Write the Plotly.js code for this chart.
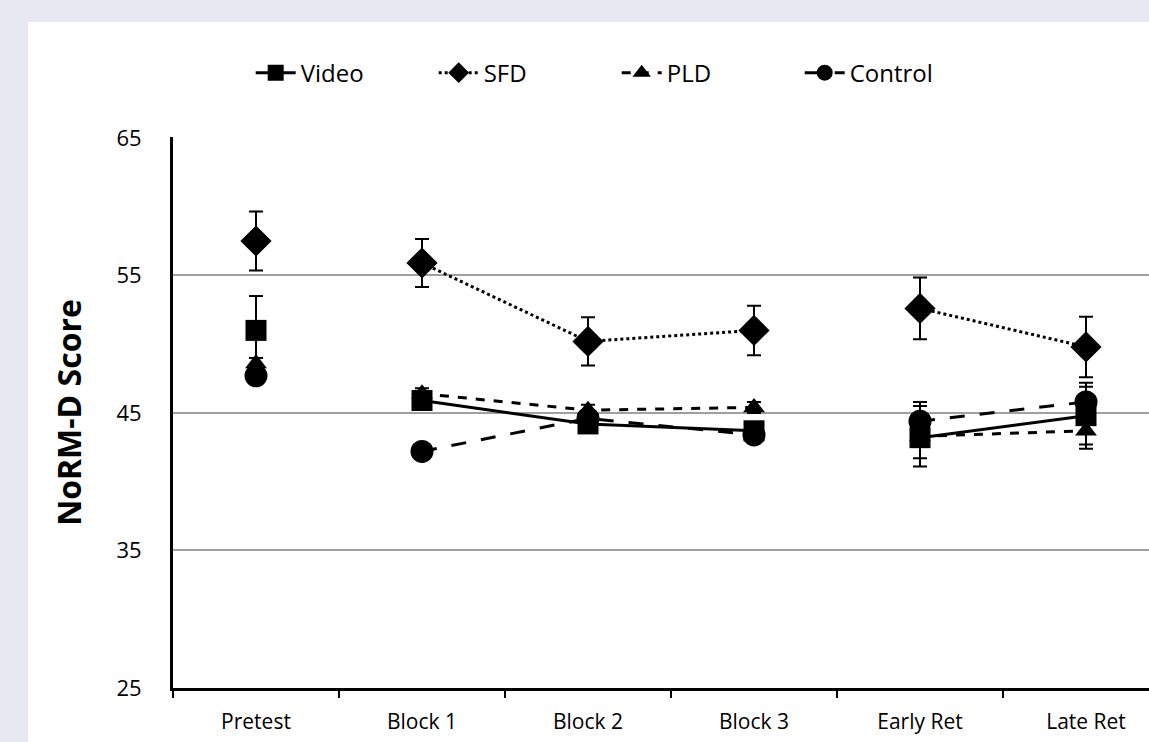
<!DOCTYPE html>
<html>
<head>
<meta charset="utf-8">
<script src="https://cdn.plot.ly/plotly-3.0.1.min.js"></script>
<style>
  html, body { margin: 0; padding: 0; background: #e6e9f1; overflow: hidden; width: 1149px; height: 742px; }
  #chart { position: absolute; left: 28px; top: 22px; width: 1200px; height: 760px; }
</style>
</head>
<body>
<div id="chart"></div>
<script>
const categories = ['Pretest', 'Block 1', 'Block 2', 'Block 3', 'Early Ret', 'Late Ret'];

const videoMean   = [51.0, 45.9, 44.2, 43.7, 43.2, 44.8];
const videoErr    = [2.5, 0.4, 0.4, 0.4, 1.5, 2.1];
const sfdMean     = [57.5, 55.9, 50.2, 51.0, 52.6, 49.8];
const sfdErr      = [2.15, 1.75, 1.75, 1.8, 2.25, 2.2];
const pldMean     = [48.6, 46.4, 45.2, 45.4, 43.3, 43.7];
const pldErr      = [0.4, 0.4, 0.4, 0.4, 2.2, 1.3];
const controlMean = [47.7, 42.2, 44.6, 43.4, 44.4, 45.8];
const controlErr  = [0.5, 0.5, 0.5, 0.5, 1.4, 1.4];

// segments: Pretest alone, Block 1-3 connected, Early-Late connected
const segments = [[0], [1, 2, 3], [4, 5]];

function withGaps(arr) {
  const out = [];
  segments.forEach((seg, si) => {
    if (si > 0) out.push(null);
    seg.forEach(i => out.push(arr[i]));
  });
  return out;
}

const series = [
  { name: 'Video',   mean: videoMean,   err: videoErr,   symbol: 'square',      size: 21, dash: 'solid' },
  { name: 'SFD',     mean: sfdMean,     err: sfdErr,     symbol: 'diamond',     size: 24, dash: 'dot' },
  { name: 'PLD',     mean: pldMean,     err: pldErr,     symbol: 'triangle-up', size: 19, dash: 'dash' },
  { name: 'Control', mean: controlMean, err: controlErr, symbol: 'circle',      size: 23, dash: 'longdash' }
];

const traces = series.map(s => ({
  type: 'scatter',
  mode: 'lines+markers',
  name: s.name,
  x: withGaps(categories),
  y: withGaps(s.mean),
  connectgaps: false,
  line: { color: '#000000', width: 3, dash: s.dash },
  marker: { symbol: s.symbol, size: s.size, color: '#000000' },
  error_y: { type: 'data', array: withGaps(s.err), visible: true, color: '#000000', thickness: 2, width: 7 },
  cliponaxis: false
}));

const layout = {
  width: 1200,
  height: 760,
  paper_bgcolor: '#ffffff',
  plot_bgcolor: '#ffffff',
  margin: { l: 145, r: 59, t: 115, b: 94 },
  font: { family: 'Open Sans, sans-serif', size: 21, color: '#000000' },
  showlegend: true,
  legend: {
    orientation: 'h',
    x: 0.078, xanchor: 'left',
    y: 1.116, yanchor: 'middle',
    font: { size: 24, color: '#000000' },
    itemwidth: 40,
    entrywidth: 128,
    bgcolor: 'rgba(0,0,0,0)'
  },
  xaxis: {
    type: 'category',
    categoryorder: 'array',
    categoryarray: categories,
    range: [-0.5, 5.5],
    showgrid: false,
    zeroline: false,
    showline: true,
    linecolor: '#000000',
    linewidth: 3,
    ticks: 'outside',
    tickson: 'boundaries',
    ticklen: 7,
    tickwidth: 2,
    tickcolor: '#000000',
    ticklabelstandoff: 13,
    tickfont: { size: 21 }
  },
  yaxis: {
    range: [25, 65.06],
    dtick: 10,
    tick0: 25,
    showgrid: true,
    gridcolor: '#a0a0a0',
    gridwidth: 2,
    zeroline: false,
    showline: true,
    linecolor: '#000000',
    linewidth: 3,
    ticks: '',
    ticklabelstandoff: 24,
    tickfont: { size: 22 },
    title: { text: '<b>NoRM-D Score</b>', font: { size: 32 }, standoff: 26 }
  }
};

Plotly.newPlot('chart', traces, layout, { displayModeBar: false, staticPlot: true });
</script>
</body>
</html>
